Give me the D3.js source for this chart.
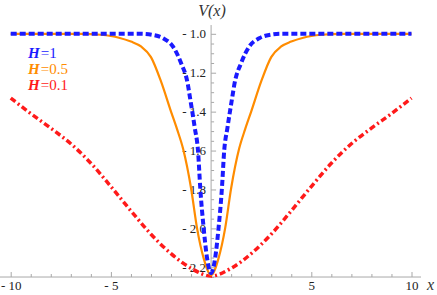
<!DOCTYPE html>
<html>
<head>
<meta charset="utf-8">
<script src="https://cdn.jsdelivr.net/npm/d3@7"></script>
<style>
  body { margin: 0; background: #fff; }
</style>
</head>
<body>
<script>
/* datos */
const xH1 = [-10, -3.5, -2.9, -2.4, -1.9, -1.5, -1.17, -1.05, -0.82, -0.65, -0.54, -0.37, -0.2, 0,
             0.2, 0.37, 0.54, 0.65, 0.82, 1.05, 1.17, 1.5, 1.9, 2.4, 2.9, 3.5, 10];
const vH1 = [-1.0, -1.0, -1.006, -1.023, -1.066, -1.15, -1.255, -1.33, -1.48, -1.606, -1.794, -2.0, -2.154, -2.23,
             -2.154, -2.0, -1.794, -1.606, -1.48, -1.33, -1.255, -1.15, -1.066, -1.023, -1.006, -1.0, -1.0];

const xH05 = [-10, -6.5, -5.5, -4.6, -4.0, -3.5, -3.0, -2.5, -2.0, -1.7, -1.4, -1.0, -0.7, -0.37, 0,
              0.37, 0.7, 1.0, 1.4, 1.7, 2.0, 2.5, 3.0, 3.5, 4.0, 4.6, 5.5, 6.5, 10];
const vH05 = [-1.0, -1.0, -1.005, -1.02, -1.04, -1.065, -1.12, -1.245, -1.40, -1.49, -1.59, -1.794, -2.0, -2.154, -2.24,
              -2.154, -2.0, -1.794, -1.59, -1.49, -1.40, -1.245, -1.12, -1.065, -1.04, -1.02, -1.005, -1.0, -1.0];

const xH01 = [-10, -9, -8, -7, -6, -5, -4, -3, -2, -1, 0, 1, 2, 3, 4, 5, 6, 7, 8, 9, 10];
const vH01 = [-1.33, -1.41, -1.485, -1.565, -1.665, -1.785, -1.91, -2.03, -2.13, -2.205, -2.245,
              -2.205, -2.13, -2.03, -1.91, -1.785, -1.665, -1.565, -1.485, -1.41, -1.33];

const etiquetas = ["1", "0.5", "0.1"];
const xTicks = [-10, -5, 5, 10];
const yTicks = [-1.0, -1.2, -1.4, -1.6, -1.8, -2.0, -2.2];

let width = 437;
let height = 295;
const fuente = "Liberation Serif";

let svg = d3.select("body").append("svg")
    .attr("width", width)
    .attr("height", height);

/* Escalas */
let escalaX = d3.scaleLinear().domain([-10, 10]).range([10.7, 411.5]);
let escalaY = d3.scaleLinear().domain([-1.0, -2.2]).range([33.8, 267.3]);

const gris = "#a8a8a8";

/* Eje X: menores, mayores y linea */
let minX = d3.range(-10, 11, 1).filter(v => v !== 0 && v % 5 !== 0);
let gMinX = svg.append("g")
    .attr("transform", "translate(0," + escalaY(-2.25) + ")")
    .call(d3.axisBottom(escalaX).tickValues(minX).tickSize(-3).tickFormat(""));
let gX = svg.append("g")
    .attr("transform", "translate(0," + escalaY(-2.25) + ")")
    .call(d3.axisBottom(escalaX).tickValues(xTicks).tickSize(-5).tickPadding(4)
          .tickFormat(d => d < 0 ? "- " + Math.abs(d) : d));
gX.select(".domain").remove();
gMinX.select(".domain").remove();
svg.append("line")
    .attr("x1", 0).attr("x2", 421)
    .attr("y1", escalaY(-2.25)).attr("y2", escalaY(-2.25))
    .attr("stroke", gris);

/* Eje Y */
let minY = d3.range(-1.0, -2.26, -0.05).map(v => +v.toFixed(2))
    .filter(v => Math.abs(Math.round(v * 5) - v * 5) > 1e-6);
let gMinY = svg.append("g")
    .attr("transform", "translate(" + escalaX(0) + ",0)")
    .call(d3.axisLeft(escalaY).tickValues(minY).tickSize(-3).tickFormat(""));
let gY = svg.append("g")
    .attr("transform", "translate(" + escalaX(0) + ",0)")
    .call(d3.axisLeft(escalaY).tickValues(yTicks).tickSize(-5).tickPadding(5)
          .tickFormat(d => "- " + Math.abs(d).toFixed(1)));
gY.select(".domain").remove();
gMinY.select(".domain").remove();
svg.append("line")
    .attr("x1", escalaX(0)).attr("x2", escalaX(0))
    .attr("y1", escalaY(-0.955)).attr("y2", escalaY(-2.25))
    .attr("stroke", gris);

svg.selectAll("g").attr("font-family", fuente);
svg.selectAll(".tick line").attr("stroke", gris);
svg.selectAll(".tick text")
    .attr("fill", "#222")
    .attr("font-size", 13);

/* Titulos de ejes */
svg.append("text")
    .attr("x", 212).attr("y", 16)
    .attr("text-anchor", "middle")
    .attr("font-family", fuente)
    .attr("font-size", 16)
    .attr("font-style", "italic")
    .attr("fill", "#333")
    .text("V(x)");
svg.append("text")
    .attr("x", 427).attr("y", 290)
    .attr("font-family", fuente)
    .attr("font-size", 16)
    .attr("font-style", "italic")
    .attr("fill", "#333")
    .text("x");

/* Curvas */
let linea = d3.line()
    .x(d => escalaX(d[0]))
    .y(d => escalaY(d[1]))
    .curve(d3.curveMonotoneX);

svg.append("path")
    .datum(d3.zip(xH01, vH01))
    .attr("d", linea)
    .attr("fill", "none")
    .attr("stroke", "#ff1a1a")
    .attr("stroke-width", 3.5)
    .attr("stroke-dasharray", "6,3,2,3");

svg.append("path")
    .datum(d3.zip(xH05, vH05))
    .attr("d", linea)
    .attr("fill", "none")
    .attr("stroke", "#ff8c00")
    .attr("stroke-width", 2.2);

svg.append("path")
    .datum(d3.zip(xH1, vH1))
    .attr("d", linea)
    .attr("fill", "none")
    .attr("stroke", "#1a1aff")
    .attr("stroke-width", 4)
    .attr("stroke-dasharray", "6,3");

/* Leyenda */
const colores = ["#1a1aff", "#ff8c00", "#ff1a1a"];
let leyenda = svg.selectAll(".leyenda")
    .data(etiquetas)
    .join("text")
    .attr("class", "leyenda")
    .attr("x", 28)
    .attr("y", (d, i) => 58 + i * 16)
    .attr("fill", (d, i) => colores[i])
    .attr("font-family", fuente)
    .attr("font-size", 15);
leyenda.append("tspan")
    .attr("font-style", "italic")
    .attr("font-weight", "bold")
    .text("H");
leyenda.append("tspan").attr("dx", 1).text(d => "=" + d);
</script>
</body>
</html>
